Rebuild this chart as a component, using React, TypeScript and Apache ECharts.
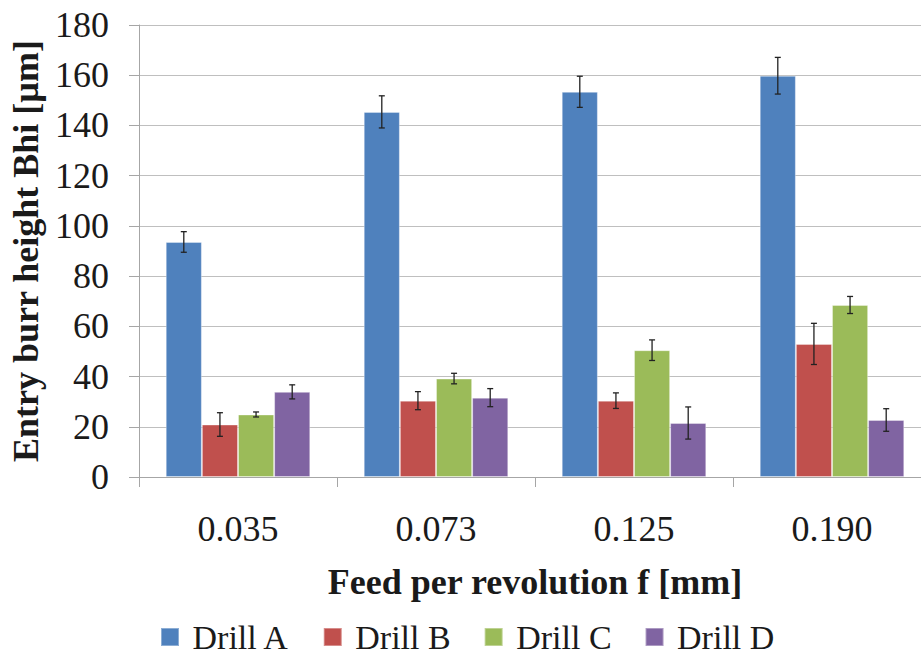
import React, { useEffect, useRef } from "react";
import * as echarts from "echarts";

const categories = ["0.035", "0.073", "0.125", "0.190"];
const seriesNames = ["Drill A", "Drill B", "Drill C", "Drill D"];
const drillA = [93.6, 145.4, 153.4, 159.8];
const drillB = [20.9, 30.4, 30.4, 53.0];
const drillC = [24.9, 39.2, 50.5, 68.5];
const drillD = [33.9, 31.6, 21.5, 22.7];
const errA = [4.1, 6.4, 6.2, 7.3];
const errB = [4.7, 3.6, 3.1, 8.2];
const errC = [1.0, 2.1, 4.1, 3.4];
const errD = [2.8, 3.6, 6.4, 4.5];
const colors = ["#4F81BD", "#C0504D", "#9BBB59", "#8064A2"];
const yTicks = [0, 20, 40, 60, 80, 100, 120, 140, 160, 180];

const values = [drillA, drillB, drillC, drillD];
const errors = [errA, errB, errC, errD];
const CAT_GAP = 0.27;
const FONT = "'Liberation Serif', 'Times New Roman', serif";

export default function App() {
  const ref = useRef<HTMLDivElement>(null);
  useEffect(() => {
    document.body.style.margin = "0";
    const chart = echarts.init(ref.current!, null, { renderer: "svg" });
    const barSeries = seriesNames.map((name, i) => ({
      name,
      type: "bar",
      data: values[i],
      barGap: "0%",
      barCategoryGap: "27%",
      itemStyle: { color: colors[i], borderColor: "rgba(255,255,255,0.35)", borderWidth: 1 },
    }));
    const errSeries = seriesNames.map((name, i) => ({
      type: "custom",
      name: name + " err",
      z: 10,
      silent: true,
      data: values[i].map((v, k) => [k, v - errors[i][k], v + errors[i][k]]),
      encode: { x: 0, y: [1, 2] },
      renderItem: (params: any, api: any) => {
        const k = api.value(0);
        const lo = api.coord([k, api.value(1)]);
        const hi = api.coord([k, api.value(2)]);
        const band = api.size([1, 0])[0];
        const bw = (band * (1 - CAT_GAP)) / 4;
        const x = lo[0] - 2 * bw + (i + 0.5) * bw;
        const cap = 3;
        const style = { stroke: "#222", lineWidth: 1.3 };
        return {
          type: "group",
          children: [
            { type: "line", shape: { x1: x, y1: lo[1], x2: x, y2: hi[1] }, style },
            { type: "line", shape: { x1: x - cap, y1: lo[1], x2: x + cap, y2: lo[1] }, style },
            { type: "line", shape: { x1: x - cap, y1: hi[1], x2: x + cap, y2: hi[1] }, style },
          ],
        };
      },
    }));
    chart.setOption({
      animation: false,
      grid: { left: 139, width: 792, top: 25, bottom: 178, outerBoundsMode: "none", containLabel: false },
      legend: {
        data: seriesNames,
        top: 615,
        left: 155,
        itemWidth: 18,
        itemHeight: 18,
        itemGap: 33,
        icon: "rect",
        formatter: (n: string) => " " + n,
        textStyle: { fontFamily: FONT, fontSize: 34, color: "#1a1a1a" },
      },
      xAxis: {
        type: "category",
        data: categories,
        name: "Feed per revolution f [mm]",
        nameLocation: "middle",
        nameGap: 87,
        nameTextStyle: { fontFamily: FONT, fontSize: 36, fontWeight: "bold", color: "#1a1a1a" },
        axisLine: { lineStyle: { color: "#a6a6a6", width: 1 } },
        axisTick: { show: true, length: 10, lineStyle: { color: "#a6a6a6" } },
        axisLabel: { fontFamily: FONT, fontSize: 36, color: "#1a1a1a", margin: 34 },
        splitLine: { show: false },
      },
      yAxis: {
        type: "value",
        min: 0,
        max: 180,
        interval: 20,
        name: "Entry burr height Bhi [µm]",
        nameLocation: "middle",
        nameRotate: 90,
        nameGap: 92,
        nameTextStyle: { fontFamily: FONT, fontSize: 36, fontWeight: "bold", color: "#1a1a1a" },
        axisLine: { show: true, lineStyle: { color: "#a6a6a6", width: 1 } },
        axisTick: { show: true, length: 10, lineStyle: { color: "#a6a6a6" } },
        axisLabel: {
          fontFamily: FONT,
          fontSize: 36,
          color: "#1a1a1a",
          margin: 30,
          formatter: (v: number) => (yTicks.includes(v) ? String(v) : ""),
        },
        splitLine: { show: true, lineStyle: { color: "#bfbfbf", width: 1.2 } },
      },
      series: [...barSeries, ...errSeries],
    });
    return () => chart.dispose();
  }, []);
  return <div ref={ref} style={{ width: 921, height: 655 }} />;
}
